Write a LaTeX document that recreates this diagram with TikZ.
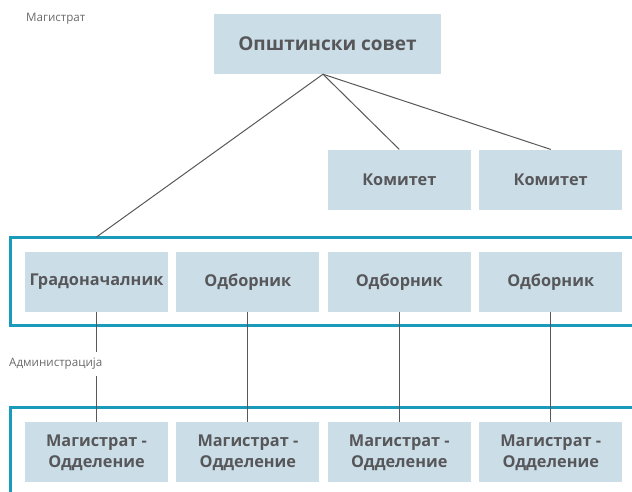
\documentclass[tikz,border=0pt]{standalone}
\usepackage{fontspec}
\setmainfont{Open Sans}
\usetikzlibrary{positioning}

\definecolor{kutijaboja}{HTML}{CBDEE8}
\definecolor{ramkaboja}{HTML}{1A9BBB}
\definecolor{tekstboja}{HTML}{57575A}
\definecolor{linijaboja}{HTML}{58585A}
\definecolor{natpisboja}{HTML}{6A6A6A}

\begin{document}
\begin{tikzpicture}[x=1pt, y=-1pt,
    kutija/.style={fill=kutijaboja, minimum width=143pt, minimum height=60pt,
        inner sep=0pt, text=tekstboja, align=center,
        font=\bfseries\fontsize{16.3}{21}\selectfont},
    ramka/.style={draw=ramkaboja, line width=3pt},
    veza/.style={draw=linijaboja, line width=1pt},
    natpis/.style={text=natpisboja, font=\fontsize{11.6}{13}\selectfont, inner sep=1pt}]
        \useasboundingbox (0,0) rectangle (632,491);

        % Ramki
        \draw[ramka] (680,237) -- (10,237) -- (10,325) -- (680,325);
        \draw[ramka] (680,407) -- (10,407) -- (10,520);

        % Magistrat
        \node[natpis, anchor=west] (magistrat) at (25,19) {Магистрат};
        \node[kutija, minimum width=227pt, font=\bfseries\fontsize{19}{21}\selectfont] (sovet) at (327.5,44) {Општински совет};

        % Gorni red
        \node[kutija] (grad) at (96.5,282) {Градоначалник};
        \node[kutija, right=8pt of grad] (odb1) {Одборник};
        \node[kutija, right=8pt of odb1] (odb2) {Одборник};
        \node[kutija, right=8pt of odb2] (odb3) {Одборник};

        % Komiteti
        \node[kutija, above=42pt of odb2] (kom1) {Комитет};
        \node[kutija, above=42pt of odb3] (kom2) {Комитет};

        % Dolni red
        \node[kutija, below=110pt of grad] (odd1) {Магистрат -\\Одделение};
        \node[kutija, below=110pt of odb1] (odd2) {Магистрат -\\Одделение};
        \node[kutija, below=110pt of odb2] (odd3) {Магистрат -\\Одделение};
        \node[kutija, below=110pt of odb3] (odd4) {Магистрат -\\Одделение};

        % Vrski
        \coordinate (vrv) at ([xshift=-4.5pt]sovet.south);
        \coordinate (gradgore) at (grad.north |- 0,237);
        \draw[veza] (vrv) -- (gradgore);
        \draw[veza] (vrv) -- (kom1.north);
        \draw[veza] (vrv) -- (kom2.north);

        \draw[veza] (grad.south) -- (odd1.north);
        \draw[veza] (odb1.south) -- (odd2.north);
        \draw[veza] (odb2.south) -- (odd3.north);
        \draw[veza] (odb3.south) -- (odd4.north);

        % Administracija
        \node[natpis, anchor=west, fill=white, inner ysep=6pt] (admin) at (8,364) {Администрација};
\end{tikzpicture}
\end{document}
